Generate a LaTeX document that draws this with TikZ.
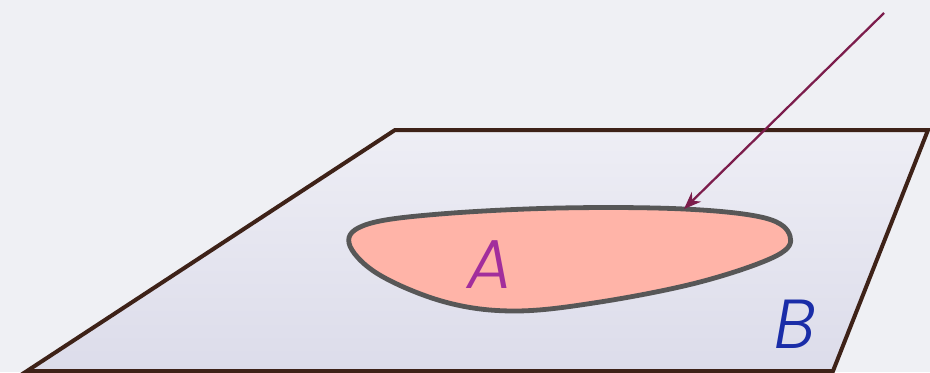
\documentclass[tikz,border=0pt]{standalone}
\usepackage{fontspec}
\newfontfamily\lbl{Poppins Light Italic}
\usetikzlibrary{arrows.meta}
\definecolor{bgc}{HTML}{EFF0F4}
\definecolor{planetop}{HTML}{EEEEF5}
\definecolor{planebot}{HTML}{DCDCEA}
\definecolor{planeedge}{HTML}{3E2218}
\definecolor{blobfill}{HTML}{FFB4A8}
\definecolor{blobedge}{HTML}{575757}
\definecolor{arrowc}{HTML}{7C1D4C}
\definecolor{acol}{HTML}{A22E9C}
\definecolor{bcol}{HTML}{1A2DA8}
\tikzset{
  plane/.style={draw=planeedge, line width=3pt, line join=miter, top color=planetop, bottom color=planebot},
  blob/.style={draw=blobedge, line width=3.6pt, fill=blobfill},
  pointer/.style={draw=arrowc, line width=1.7pt, -{Stealth[length=13pt,width=10pt]}},
  lab/.style={font=\lbl\fontsize{52}{52}\selectfont, inner sep=0pt}
}
\begin{document}
\begin{tikzpicture}[x=0.75pt,y=-0.75pt]
\fill[bgc] (0,0) rectangle (930,372);
\useasboundingbox (0,0) rectangle (930,372);
\path[plane] (395,130) -- (928,130) -- (833,371) -- (27,371) -- cycle;
\path[blob] plot[smooth cycle, tension=0.6] coordinates {
  (349,243) (368,224) (440,214) (560,208) (684,209) (765,218) (790,236)
  (776,256) (700,282) (600,302) (515,311) (445,302) (378,274)};
\node[lab, text=acol] (A) at (490,265) {A};
\node[lab, text=bcol] (B) at (795,324) {B};
\coordinate (tail) at (884,13);
\coordinate (tip) at (684,209);
\draw[pointer] (tail) -- (tip);
\end{tikzpicture}
\end{document}
